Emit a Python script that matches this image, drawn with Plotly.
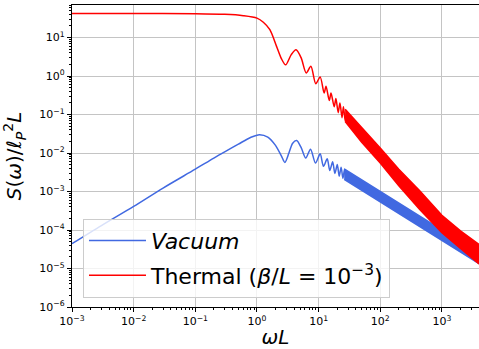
import plotly.graph_objects as go

# ---- data ----
vac_x = [0.001, 0.003, 0.01, 0.03, 0.1, 0.2, 0.3, 0.5, 0.8, 1.1, 1.5, 2.0, 2.5, 2.84,
         3.3, 3.8, 4.4, 5.2, 6.2, 7.4, 8.9, 10.6, 12.0, 13.8, 15.2, 16.9, 18.4,
         20.1, 21.6, 23.2, 24.8, 26.4, 27.9]
vac_y = [4.4e-5, 1.3e-4, 4.1e-4, 1.23e-3, 3.8e-3, 7.4e-3, 1.07e-2, 1.7e-2, 2.57e-2,
         3.0e-2, 2.6e-2, 1.58e-2, 8.3e-3, 5.7e-3, 1.0e-2, 1.8e-2, 2.1e-2, 1.4e-2,
         7.4e-3, 1.26e-2, 5.5e-3, 9.5e-3, 4.5e-3, 7.1e-3, 3.5e-3, 5.9e-3, 2.95e-3,
         5.0e-3, 2.5e-3, 4.3e-3, 2.2e-3, 3.8e-3, 1.95e-3]

# dense-oscillation band of the vacuum curve (upper / lower envelope)
vac_band_x = [26, 50, 100, 300, 1000, 4000]
vac_band_top = [3.85e-3, 2.0e-3, 1.0e-3, 3.3e-4, 1.0e-4, 2.5e-5]
vac_band_bot = [2.07e-3, 1.07e-3, 5.4e-4, 1.8e-4, 5.4e-5, 1.35e-5]

th_x = [0.001, 0.01, 0.1, 0.3, 0.6, 1.0, 1.27, 1.62, 2.08, 2.5, 2.92, 3.6, 4.3, 5.2,
        6.3, 7.5, 9.0, 10.6, 12.3, 13.2, 14.9, 15.9, 17.9, 19.1, 20.8, 22.2, 24.0,
        25.3, 27.1, 28.4]
th_y = [42, 42, 41.5, 40, 37, 32, 25, 16, 5.9, 2.8, 1.95, 3.6, 4.8, 3.0, 1.2, 1.8,
        0.63, 0.95, 0.36, 0.54, 0.23, 0.36, 0.16, 0.26, 0.112, 0.20, 0.083, 0.158,
        0.066, 0.125]

th_band_x = [27, 50, 100, 200, 437, 1000, 2000, 4000]
th_band_top = [0.138, 0.0468, 0.0135, 3.8e-3, 1.05e-3, 2.4e-4, 9.5e-5, 4.2e-5]
th_band_bot = [0.066, 0.019, 5.5e-3, 1.41e-3, 3.4e-4, 8.5e-5, 3.3e-5, 1.32e-5]

x_exps = [-3, -2, -1, 0, 1, 2, 3]
y_exps = [-6, -5, -4, -3, -2, -1, 0, 1]

labels = ["<i>Vacuum</i>", "Thermal (<i>β</i>/<i>L</i> = 10<sup>−3</sup>)"]
colors = ["#4169E1", "#FF0000"]

fig = go.Figure()

def add_curve(x, y, bx, btop, bbot, name, color, group):
    fig.add_trace(go.Scatter(x=x, y=y, mode="lines", name=name, legendgroup=group,
                             line=dict(color=color, width=1.5, shape="spline", smoothing=0.8)))
    fig.add_trace(go.Scatter(x=bx + bx[::-1], y=btop + bbot[::-1], mode="lines",
                             fill="toself", fillcolor=color, showlegend=False,
                             legendgroup=group,
                             line=dict(color=color, width=1.5)))

add_curve(vac_x, vac_y, vac_band_x, vac_band_top, vac_band_bot, labels[0], colors[0], "a")
add_curve(th_x, th_y, th_band_x, th_band_top, th_band_bot, labels[1], colors[1], "b")

def ticktext(exps):
    return ["10<sup>" + str(e).replace("-", "−") + "</sup>" for e in exps]

def minor_vals(exps_lo, exps_hi):
    return [m * 10.0 ** e for e in range(exps_lo, exps_hi + 1) for m in range(2, 10)]

axis_common = dict(type="log", showgrid=True, gridcolor="#c4c4c4", gridwidth=1,
                   showline=True, linecolor="black", linewidth=1.2,
                   ticks="outside", ticklen=4, tickcolor="black", automargin=False,
                   zeroline=False,
                   tickfont=dict(family="DejaVu Sans", size=11, color="black"))

fig.update_layout(
    width=479, height=349,
    margin=dict(l=72, r=0, t=5, b=42),
    paper_bgcolor="white", plot_bgcolor="white",
    font=dict(family="DejaVu Sans", color="black"),
    legend=dict(x=0.027, y=0.292, xanchor="left", yanchor="top",
                bgcolor="rgba(255,255,255,0.8)", bordercolor="#cccccc", borderwidth=1,
                font=dict(size=22, family="DejaVu Sans"), tracegroupgap=3,
                itemwidth=57),
)
fig.update_xaxes(**axis_common, range=[-3, 3.602], mirror=True,
                 tickvals=[10.0 ** e for e in x_exps], ticktext=ticktext(x_exps),
                 minor=dict(ticks="outside", ticklen=2, tickcolor="black",
                            tickvals=minor_vals(-3, 3), showgrid=False),
                 title=dict(text="<i>ωL</i>", font=dict(size=20), standoff=2))
fig.update_yaxes(**axis_common, range=[-6, 1.845],
                 tickvals=[10.0 ** e for e in y_exps], ticktext=ticktext(y_exps),
                 minor=dict(ticks="outside", ticklen=2, tickcolor="black",
                            tickvals=minor_vals(-6, 1), showgrid=False),
                 title=dict(text="<i>S</i>(<i>ω</i>)/<i>ℓ</i><sub><i>P</i></sub><sup>2</sup><i>L</i>",
                            font=dict(size=20), standoff=12))

fig.write_html("out.html", config={"displayModeBar": False},
               post_script="document.body.style.margin='0px';document.body.style.overflow='hidden';")
